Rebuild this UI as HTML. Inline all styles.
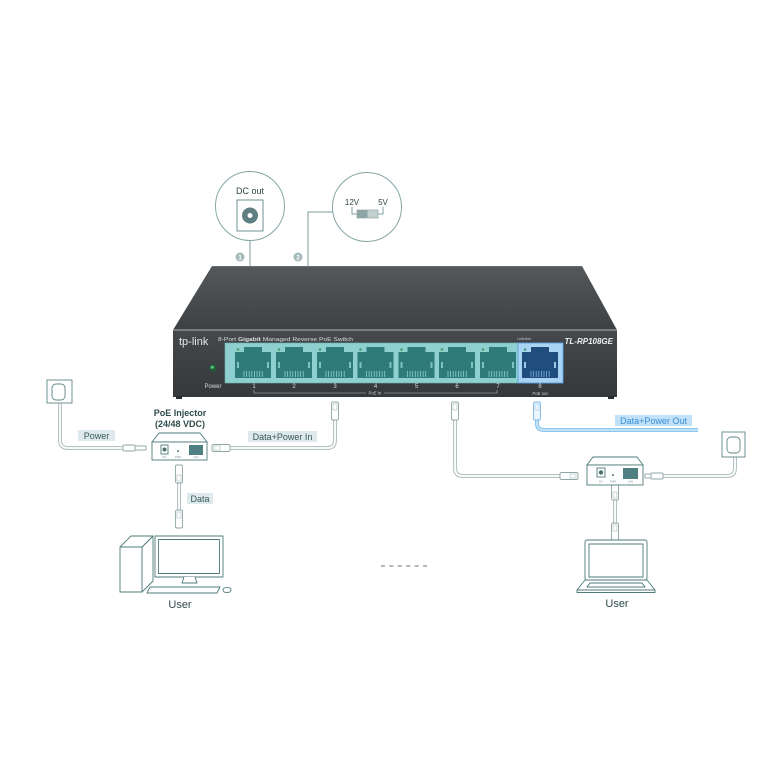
<!DOCTYPE html>
<html><head><meta charset="utf-8"><style>
html,body{margin:0;padding:0;background:#fff;}
svg{display:block;}
text{font-family:"Liberation Sans",sans-serif;}
</style></head><body>
<svg width="776" height="776" viewBox="0 0 776 776" xmlns="http://www.w3.org/2000/svg">
<defs>
<linearGradient id="gTop" x1="0" y1="0" x2="0" y2="1">
<stop offset="0" stop-color="#55585b"/><stop offset="1" stop-color="#3e4144"/>
</linearGradient>
<linearGradient id="gFront" x1="0" y1="0" x2="0" y2="1">
<stop offset="0" stop-color="#46494c"/><stop offset="1" stop-color="#35383b"/>
</linearGradient>
<g id="port">
<path d="M-18,352 H-9 V347 H9 V352 H18 V378 H-18 Z" fill="#2f7b79"/>
<rect x="-16" y="362" width="2" height="6" fill="#7fc2c2"/>
<rect x="14" y="362" width="2" height="6" fill="#7fc2c2"/>
<path d="M-9,371V377M-6.4,371V377M-3.8,371V377M-1.2,371V377M1.4,371V377M4,371V377M6.6,371V377M9.2,371V377" stroke="#8fd0d0" stroke-width="0.8"/>
<circle cx="-15" cy="349.5" r="1.3" fill="#3fa070"/>
</g>
<g id="plugV">
<rect x="-3.5" y="0" width="7" height="18" rx="1.5" fill="#fff" stroke="#8fa5a5" stroke-width="0.9"/>
<rect x="-2" y="2" width="4" height="6" fill="none" stroke="#a9baba" stroke-width="0.6"/>
</g>
<g id="plugH">
<rect x="0" y="-3.5" width="18" height="7" rx="1.5" fill="#fff" stroke="#8fa5a5" stroke-width="0.9"/>
<rect x="10" y="-2" width="6" height="4" fill="none" stroke="#a9baba" stroke-width="0.6"/>
</g>
</defs>

<!-- Top callout circles -->
<g stroke="#85a6a6" stroke-width="1" fill="#fff">
<circle cx="250" cy="206" r="34.5"/>
<circle cx="367" cy="207" r="34.5"/>
</g>
<path d="M250,240.5 V266 M332.5,212 H308 V266" stroke="#7d9e9e" stroke-width="1" fill="none"/>
<text x="250" y="194" font-size="9" text-anchor="middle" fill="#2c4444">DC out</text>
<rect x="237" y="200" width="26" height="31" fill="#fff" stroke="#5f8585" stroke-width="0.9"/>
<circle cx="250" cy="215.5" r="8" fill="#5f7f80"/>
<circle cx="250" cy="215.5" r="2.5" fill="#fff"/>
<text x="352" y="205" font-size="8" text-anchor="middle" fill="#2c4444">12V</text>
<text x="383" y="205" font-size="8" text-anchor="middle" fill="#2c4444">5V</text>
<path d="M352,207 V214 H357 M383,207 V214 H378" stroke="#5f8585" stroke-width="0.8" fill="none"/>
<rect x="357" y="210" width="21" height="8" fill="#c4cfcf" stroke="#7d9a9a" stroke-width="0.6"/>
<rect x="357" y="210" width="10.5" height="8" fill="#8ea5a5"/>
<circle cx="240" cy="257" r="4.5" fill="#a5bbbb"/>
<text x="240" y="259.3" font-size="6.5" font-weight="bold" text-anchor="middle" fill="#fff">1</text>
<circle cx="298" cy="257" r="4.5" fill="#a5bbbb"/>
<text x="298" y="259.3" font-size="6.5" font-weight="bold" text-anchor="middle" fill="#fff">2</text>

<!-- Switch -->
<polygon points="212,266 582,266 617,330 173,330" fill="url(#gTop)"/>
<line x1="212" y1="266.5" x2="582" y2="266.5" stroke="#6a6d70" stroke-width="1"/>
<rect x="173" y="330" width="444" height="67" fill="url(#gFront)"/>
<line x1="173" y1="330" x2="617" y2="330" stroke="#8c8f92" stroke-width="1.5"/>
<rect x="176" y="396" width="6" height="3" fill="#2a2c2e"/>
<rect x="608" y="396" width="6" height="3" fill="#2a2c2e"/>
<text x="179" y="345" font-size="11" fill="#e6e8e8">tp-link</text>
<text x="218" y="341" font-size="5.5" fill="#dcdede" textLength="135" lengthAdjust="spacingAndGlyphs">8-Port <tspan font-weight="bold">Gigabit</tspan> Managed Reverse PoE Switch</text>
<text x="524" y="340" font-size="3.8" fill="#cfd2d2" text-anchor="middle">Link/Act</text>
<text x="613" y="344" font-size="8" font-style="italic" font-weight="bold" fill="#eef0f0" text-anchor="end">TL-RP108GE</text>
<rect x="225" y="343" width="293" height="40" fill="#8ecfcf" stroke="#6fb4b4" stroke-width="0.6"/>
<use href="#port" transform="translate(253,0)"/>
<use href="#port" transform="translate(294,0)"/>
<use href="#port" transform="translate(335,0)"/>
<use href="#port" transform="translate(375.5,0)"/>
<use href="#port" transform="translate(416.5,0)"/>
<use href="#port" transform="translate(457,0)"/>
<use href="#port" transform="translate(498,0)"/>
<rect x="518" y="343" width="45" height="40" fill="#a9d3f2" stroke="#5aa2e2" stroke-width="0.9"/>
<g transform="translate(540,0)">
<path d="M-18,352 H-9 V347 H9 V352 H18 V378 H-18 Z" fill="#1f4e7e"/>
<rect x="-16" y="362" width="2" height="6" fill="#9cc8ec"/>
<rect x="14" y="362" width="2" height="6" fill="#9cc8ec"/>
<path d="M-9,371V377M-6.4,371V377M-3.8,371V377M-1.2,371V377M1.4,371V377M4,371V377M6.6,371V377M9.2,371V377" stroke="#7fb0dc" stroke-width="0.8"/>
<circle cx="-15" cy="349.5" r="1.3" fill="#3fa070"/>
</g>
<circle cx="213" cy="368" r="3.8" fill="#1d5a34"/>
<circle cx="212.3" cy="367.2" r="1.6" fill="#5fbf80"/>
<g font-size="6" fill="#d8dada" text-anchor="middle">
<text x="213" y="388">Power</text>
<text x="254" y="388">1</text><text x="294" y="388">2</text><text x="335" y="388">3</text><text x="375.5" y="388">4</text>
<text x="416.5" y="388">5</text><text x="457" y="388">6</text><text x="498" y="388">7</text><text x="540" y="388">8</text>
</g>
<path d="M254,390 V393 H366 M384,393 H497 V390" stroke="#b9bcbc" stroke-width="0.6" fill="none"/>
<text x="375" y="394.5" font-size="4.3" fill="#cfd2d2" text-anchor="middle">PoE In</text>
<text x="540" y="395" font-size="4.3" fill="#cfd2d2" text-anchor="middle">PoE out</text>

<!-- Cables -->
<g fill="none" stroke-linejoin="round">
<path d="M60,402 V440 Q60,448 68,448 H124" stroke="#b5c2c2" stroke-width="4"/>
<path d="M60,402 V440 Q60,448 68,448 H124" stroke="#fff" stroke-width="1.8"/>
<path d="M230,448 H327 Q335,448 335,440 V420" stroke="#b5c2c2" stroke-width="4"/>
<path d="M230,448 H327 Q335,448 335,440 V420" stroke="#fff" stroke-width="1.8"/>
<path d="M179,483 V510" stroke="#b5c2c2" stroke-width="4"/>
<path d="M179,483 V510" stroke="#fff" stroke-width="1.8"/>
<path d="M455,420 V468 Q455,476 463,476 H560" stroke="#b5c2c2" stroke-width="4"/>
<path d="M455,420 V468 Q455,476 463,476 H560" stroke="#fff" stroke-width="1.8"/>
<path d="M663,476 H727 Q735,476 735,468 V455" stroke="#b5c2c2" stroke-width="4"/>
<path d="M663,476 H727 Q735,476 735,468 V455" stroke="#fff" stroke-width="1.8"/>
<path d="M615,500 V523" stroke="#b5c2c2" stroke-width="4"/>
<path d="M615,500 V523" stroke="#fff" stroke-width="1.8"/>
<path d="M537,420 V424 Q537,430 545,430 H698" stroke="#8cc6ee" stroke-width="4"/>
<path d="M537,420 V424 Q537,430 545,430 H698" stroke="#d2ebfa" stroke-width="1.5"/>
</g>

<!-- Plugs -->
<use href="#plugV" transform="translate(335,402)"/>
<use href="#plugV" transform="translate(455,402)"/>
<g transform="translate(537,402)">
<rect x="-3.5" y="0" width="7" height="18" rx="1.5" fill="#eaf5fd" stroke="#7db8e6" stroke-width="0.9"/>
<rect x="-2" y="2" width="4" height="6" fill="none" stroke="#9fcaee" stroke-width="0.6"/>
</g>
<use href="#plugH" transform="translate(230,448) scale(-1,1)"/>
<use href="#plugH" transform="translate(560,476)"/>
<use href="#plugV" transform="translate(179,483) scale(1,-1)"/>
<use href="#plugV" transform="translate(179,510)"/>
<use href="#plugV" transform="translate(615,500) scale(1,-1)"/>
<use href="#plugV" transform="translate(615,523)"/>
<!-- DC plugs -->
<g fill="#fff" stroke="#8fa5a5" stroke-width="0.9">
<rect x="123" y="445" width="12" height="6" rx="1"/>
<rect x="135" y="446" width="11" height="4"/>
<rect x="651" y="473" width="12" height="6" rx="1"/>
<rect x="645" y="474" width="6" height="4"/>
</g>

<!-- Wall outlets -->
<g fill="#fff" stroke="#5f8585" stroke-width="0.9">
<rect x="47" y="380" width="25" height="23"/>
<rect x="52" y="384" width="13" height="16" rx="4"/>
<rect x="722" y="432" width="23" height="25"/>
<rect x="727" y="437" width="13" height="16" rx="4"/>
</g>

<!-- Labels -->
<rect x="78" y="430" width="37" height="11" fill="#dde9ec"/>
<text x="96.5" y="439" font-size="9" text-anchor="middle" fill="#3a5858">Power</text>
<rect x="248" y="431" width="69" height="11" fill="#dde9ec"/>
<text x="282.5" y="440" font-size="9" text-anchor="middle" fill="#3a5858">Data+Power In</text>
<rect x="187" y="493" width="26" height="11" fill="#dde9ec"/>
<text x="200" y="502" font-size="9" text-anchor="middle" fill="#3a5858">Data</text>
<rect x="615" y="415" width="77" height="11" fill="#c0e1f7"/>
<text x="653.5" y="424" font-size="9" text-anchor="middle" fill="#3a8fd6">Data+Power Out</text>
<text x="180" y="416" font-size="9" font-weight="bold" text-anchor="middle" fill="#2e4a4a">PoE Injector</text>
<text x="180" y="427" font-size="9" font-weight="bold" text-anchor="middle" fill="#2e4a4a">(24/48 VDC)</text>

<!-- Injectors -->
<g fill="#fff" stroke="#4f7a7a" stroke-width="0.9">
<polygon points="152,442 159,433 200,433 207,442"/>
<rect x="152" y="442" width="55" height="18"/>
<rect x="161" y="445" width="7" height="9"/>
<polygon points="587,465 593,457 637,457 643,465"/>
<rect x="587" y="465" width="56" height="20"/>
<rect x="597" y="468" width="8" height="9"/>
</g>
<circle cx="164.5" cy="449.5" r="2" fill="#4f6f6f"/>
<circle cx="178" cy="451" r="1.1" fill="#6f8f8f"/>
<rect x="189" y="445" width="14" height="10" fill="#4f7f80"/>
<circle cx="601" cy="472.5" r="2.2" fill="#4f6f6f"/>
<circle cx="613" cy="475" r="1.1" fill="#6f8f8f"/>
<rect x="623" y="468" width="15" height="11" fill="#4f7f80"/>
<g font-size="2.6" fill="#7a9090" text-anchor="middle">
<text x="164.5" y="458">DC</text><text x="178" y="458">PWR</text><text x="196" y="458">LAN</text>
<text x="601" y="482.5">DC</text><text x="613" y="482.5">PWR</text><text x="630.5" y="482.5">LAN</text>
</g>

<!-- Desktop computer -->
<g fill="#fff" stroke="#4f7a7a" stroke-width="0.9" stroke-linejoin="round">
<polygon points="142,547 153,536 153,581 142,592"/>
<polygon points="120,547 131,536 153,536 142,547"/>
<rect x="120" y="547" width="22" height="45"/>
<rect x="155" y="536" width="68" height="41"/>
<rect x="158.5" y="539.5" width="61" height="34"/>
<path d="M184,577 L182,583 H197 L195,577"/>
<polygon points="150,587 220,587 217,593 147,593"/>
<ellipse cx="227" cy="590" rx="4" ry="2.6"/>
</g>
<text x="180" y="608" font-size="11" text-anchor="middle" fill="#2e4a4a">User</text>

<!-- Laptop -->
<g fill="#fff" stroke="#4f7a7a" stroke-width="0.9" stroke-linejoin="round">
<rect x="585" y="540" width="62" height="40" rx="2"/>
<rect x="589" y="544" width="54" height="33"/>
<polygon points="585,580 647,580 655,590 577,590"/>
<rect x="577" y="590" width="78" height="2.5"/>
<polygon points="590,583 642,583 645,587 587,587"/>
</g>
<text x="617" y="607" font-size="11" text-anchor="middle" fill="#2e4a4a">User</text>

<!-- dashes -->
<line x1="381" y1="566" x2="427" y2="566" stroke="#8a8f8f" stroke-width="1.2" stroke-dasharray="4,4.4"/>
</svg>
</body></html>
